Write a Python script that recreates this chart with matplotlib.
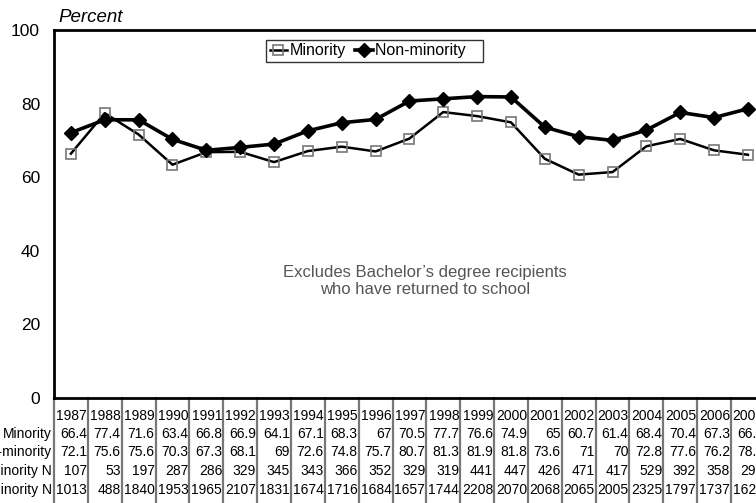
import matplotlib
matplotlib.use("Agg")
import matplotlib.pyplot as plt
import matplotlib.transforms as mtransforms

plt.rcParams["font.family"] = ["Liberation Sans", "DejaVu Sans"]

years = list(range(1987, 2008))
minority = [66.4, 77.4, 71.6, 63.4, 66.8, 66.9, 64.1, 67.1, 68.3, 67.0, 70.5,
            77.7, 76.6, 74.9, 65.0, 60.7, 61.4, 68.4, 70.4, 67.3, 66.1]
non_minority = [72.1, 75.6, 75.6, 70.3, 67.3, 68.1, 69.0, 72.6, 74.8, 75.7, 80.7,
                81.3, 81.9, 81.8, 73.6, 71.0, 70.0, 72.8, 77.6, 76.2, 78.6]
minority_n = [107, 53, 197, 287, 286, 329, 345, 343, 366, 352, 329,
              319, 441, 447, 426, 471, 417, 529, 392, 358, 293]
non_minority_n = [1013, 488, 1840, 1953, 1965, 2107, 1831, 1674, 1716, 1684, 1657,
                  1744, 2208, 2070, 2068, 2065, 2005, 2325, 1797, 1737, 1623]
minority_txt = ["66.4", "77.4", "71.6", "63.4", "66.8", "66.9", "64.1", "67.1", "68.3", "67",
                "70.5", "77.7", "76.6", "74.9", "65", "60.7", "61.4", "68.4", "70.4", "67.3", "66.1"]
non_minority_txt = ["72.1", "75.6", "75.6", "70.3", "67.3", "68.1", "69", "72.6", "74.8", "75.7",
                    "80.7", "81.3", "81.9", "81.8", "73.6", "71", "70", "72.8", "77.6", "76.2", "78.6"]
row_labels = ["Minority", "Non-minority", "Minority N", "Non-minority N"]
y_ticks = [0, 20, 40, 60, 80, 100]

W, H = 756, 503
fig = plt.figure(figsize=(W / 100, H / 100), dpi=100)

# axes run past the right edge, as in the reference
left_px, top_px, bottom_px = 54, 30, 398
col_px = 33.85
ax = fig.add_axes([left_px / W, (H - bottom_px) / H,
                   col_px * len(years) / W, (bottom_px - top_px) / H])

ax.plot(years, minority, color="black", linewidth=1.8, marker="s",
        markersize=7.5, markerfacecolor="none", markeredgecolor="#777777",
        markeredgewidth=1.2, label="Minority", zorder=3)
ax.plot(years, non_minority, color="black", linewidth=2.6, marker="D",
        markersize=7, markerfacecolor="black", markeredgecolor="black",
        label="Non-minority   ", zorder=4)

ax.set_xlim(years[0] - 0.5, years[-1] + 0.5)
ax.set_ylim(0, 100)
ax.set_yticks(y_ticks)
ax.set_yticklabels([str(v) for v in y_ticks], fontsize=12.5)
ax.set_xticks([])
ax.tick_params(axis="y", length=0, pad=10)

for side in ["left", "top", "bottom", "right"]:
    ax.spines[side].set_linewidth(2)
    ax.spines[side].set_color("black")

ax.text(0.006, 1.012, "Percent", transform=ax.transAxes, fontsize=13.5,
        style="italic", ha="left", va="bottom")

ax.text(1997.45, 31.8, "Excludes Bachelor\u2019s degree recipients\nwho have returned to school",
        ha="center", va="center", fontsize=12, color="#555555", linespacing=1.15)

leg = ax.legend(loc="upper center", bbox_to_anchor=(0.451, 0.973), ncol=2,
                fontsize=11.5, frameon=True, fancybox=False, handlelength=1.1,
                handletextpad=0.15, columnspacing=0.6, borderpad=0.22,
                borderaxespad=0)
leg.get_frame().set_edgecolor("black")
leg.get_frame().set_linewidth(1)

# data table below the plot
trans = mtransforms.blended_transform_factory(ax.transData, fig.transFigure)


def fy(ypix):
    return (H - ypix) / H


for i in range(len(years) + 1):
    xe = years[0] - 0.5 + i
    ax.plot([xe, xe], [fy(bottom_px), fy(H)], transform=trans, color="#777777",
            linewidth=1.6, clip_on=False)

row_y = [416, 434, 452, 471, 490]
rows = [[str(y) for y in years], minority_txt, non_minority_txt,
        [str(v) for v in minority_n], [str(v) for v in non_minority_n]]
for r, (yp, vals) in enumerate(zip(row_y, rows)):
    for yr, txt in zip(years, vals):
        ax.text(yr + 0.47, fy(yp), txt, transform=trans, ha="right", va="center",
                fontsize=10, clip_on=False)
    if r > 0:
        ax.text(years[0] - 0.56, fy(yp), row_labels[r - 1], transform=trans,
                ha="right", va="center", fontsize=10, clip_on=False)

fig.savefig("out.png", dpi=100)
